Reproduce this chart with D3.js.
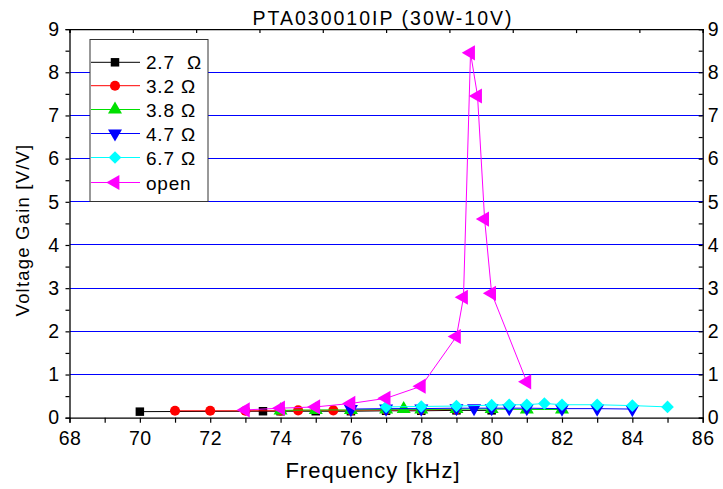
<!DOCTYPE html>
<html><head><meta charset="utf-8">
<script src="https://cdn.jsdelivr.net/npm/d3@7"></script>
<style>
body{margin:0;background:#fff;}
svg{display:block;font-family:"Liberation Sans",Arial,sans-serif;}
</style></head><body>
<svg id="c" width="723" height="489"></svg>
<script>
// ---- data ----
const title = "PTA030010IP (30W-10V)";
const xLabel = "Frequency [kHz]";
const yLabel = "Voltage Gain [V/V]";
const xTickLabels = [68,70,72,74,76,78,80,82,84,86];
const yTickLabels = [0,1,2,3,4,5,6,7,8,9];
const topTicks = [68,69.8,71.6,73.4,75.2,77,78.8,80.6,82.4,84.2,86];
const gridValues = [1,2,3,4,5,6,7,8];

const seriesNames = ["2.7  \u03A9","3.2 \u03A9","3.8 \u03A9","4.7 \u03A9","6.7 \u03A9","open"];
const seriesColors = ["#000000","#ff0000","#00e000","#0000ff","#00ffff","#ff00ff"];
const seriesSymbols = ["square","circle","triangleUp","triangleDown","diamond","triangleLeft"];

const f27 = [70,73.5,74,75,76,77,78,79,80];
const v27 = [0.14,0.15,0.15,0.15,0.15,0.16,0.16,0.17,0.17];
const f32 = [71,72,73,74,74.5,75.5,76,77,78,79];
const v32 = [0.16,0.16,0.16,0.16,0.17,0.17,0.17,0.18,0.18,0.19];
const f38 = [74,75,76,77,77.5,78,79,80,81,82];
const v38 = [0.17,0.18,0.18,0.19,0.2,0.19,0.2,0.2,0.19,0.19];
const f47 = [76,77,78,79,79.5,80,80.5,81,82,83,84];
const v47 = [0.2,0.21,0.21,0.22,0.22,0.22,0.22,0.22,0.21,0.21,0.2];
const f67 = [77,78,79,80,80.5,81,81.5,82,83,84,85];
const v67 = [0.25,0.26,0.27,0.29,0.3,0.3,0.33,0.3,0.3,0.28,0.25];
const fOpen = [73,74,75,76,77,78,79,79.2,79.4,79.6,79.8,80,81];
const vOpen = [0.18,0.22,0.25,0.33,0.45,0.73,1.88,2.79,8.45,7.45,4.6,2.88,0.83];

const seriesF = [f27,f32,f38,f47,f67,fOpen];
const seriesV = [v27,v32,v38,v47,v67,vOpen];

// ---- chart ----
const svg = d3.select("#c");
const x = d3.scaleLinear().domain([68,86]).range([69.5,702.7]);
const y = d3.scaleLinear().domain([0,9]).range([417.7,29.1]);
const X0 = x.range()[0], X1 = x.range()[1], Y0 = y.range()[0], Y1 = y.range()[1];

// grid
svg.append("g").selectAll("line").data(gridValues).join("line")
  .attr("x1",X0).attr("x2",X1).attr("y1",d=>y(d)).attr("y2",d=>y(d))
  .attr("stroke","#0000ff").attr("stroke-width",1).attr("shape-rendering","crispEdges");

// symbols
const symMap = {
  square: d3.symbol(d3.symbolSquare, 72),
  circle: d3.symbol(d3.symbolCircle, 80),
  triangleUp: d3.symbol(d3.symbolTriangle, 85)
};
function symbolPath(kind){
  if (kind === "triangleDown") return {p: symMap.triangleUp(), r: 180};
  if (kind === "triangleLeft") return {p: d3.symbol(d3.symbolTriangle, 100)(), r: -90};
  if (kind === "diamond") return {p: d3.symbol(d3.symbolSquare,80)(), r: 45};
  return {p: symMap[kind](), r: 0};
}

const line = d3.line().x(d=>x(d[0])).y(d=>y(d[1]));
const dataG = svg.append("g");
seriesF.forEach((fs,i)=>{
  const pts = fs.map((f,j)=>[f, seriesV[i][j]]);
  const g = dataG.append("g");
  g.append("path").attr("d", line(pts)).attr("fill","none")
    .attr("stroke", seriesColors[i]).attr("stroke-width",1);
  const s = symbolPath(seriesSymbols[i]);
  g.selectAll("path.m").data(pts).join("path").attr("class","m")
    .attr("d", s.p).attr("fill", seriesColors[i])
    .attr("transform", d=>`translate(${x(d[0])},${y(d[1])}) rotate(${s.r})`);
});

// axes
const axG = svg.append("g");
const axBottom = d3.axisBottom(x).tickValues(d3.range(68,87,1)).tickSize(5).tickPadding(8)
  .tickFormat(d => xTickLabels.includes(d) ? d : "");
const bx = axG.append("g").attr("transform",`translate(0,${Y0})`).call(axBottom);
const axLeft = d3.axisLeft(y).tickValues(d3.range(0,9.01,0.5)).tickSize(4).tickPadding(6)
  .tickFormat(d => yTickLabels.includes(d) ? d : "");
const lx = axG.append("g").attr("transform",`translate(${X0},0)`).call(axLeft);
const axRight = d3.axisRight(y).tickValues(d3.range(0,9.01,0.5)).tickSize(-4).tickPadding(6)
  .tickFormat(d => yTickLabels.includes(d) ? d : "");
const rx = axG.append("g").attr("transform",`translate(${X1},0)`).call(axRight);
const axTop = d3.axisTop(x).tickValues(topTicks).tickSize(-4).tickFormat("");
const tx = axG.append("g").attr("transform",`translate(0,${Y1})`).call(axTop);
[bx,lx,rx,tx].forEach(g=>{
  g.attr("font-family",null).attr("font-size",null);
  g.selectAll("text").attr("fill","#000").attr("font-size",19.5).style("letter-spacing","0.5px");
  g.selectAll("path.domain").attr("stroke","#000").attr("stroke-width",1.3);
  g.selectAll(".tick line").attr("stroke","#000").attr("stroke-width",1.2);
});
rx.selectAll("text").attr("x",5);

// labels
svg.append("text").attr("x",383).attr("y",25).attr("text-anchor","middle")
  .attr("font-size",19.5).style("letter-spacing","2px").text(title);
svg.append("text").attr("x",373).attr("y",478).attr("text-anchor","middle")
  .attr("font-size",22).style("letter-spacing","1px").text(xLabel);
svg.append("text").attr("transform","translate(29,230) rotate(-90)").attr("text-anchor","middle")
  .attr("font-size",18.5).style("letter-spacing","1.2px").text(yLabel);

// legend
const leg = svg.append("g");
leg.append("rect").attr("x",90).attr("y",39.5).attr("width",118).attr("height",162)
  .attr("fill","#fff").attr("stroke","#333").attr("stroke-width",1);
const legY = [62.3,85.7,109.5,133.5,157.5,182.5];
seriesNames.forEach((nm,i)=>{
  const yy = legY[i];
  leg.append("line").attr("x1",91).attr("x2",140).attr("y1",yy).attr("y2",yy)
    .attr("stroke",seriesColors[i]).attr("stroke-width",1);
  const s = symbolPath(seriesSymbols[i]);
  leg.append("path").attr("d",s.p).attr("fill",seriesColors[i])
    .attr("transform",`translate(115,${yy}) rotate(${s.r})`);
  leg.append("text").attr("x",146).attr("y",yy+7).attr("font-size",19)
    .style("letter-spacing","0.8px").style("white-space","pre").text(nm);
});
</script>
</body></html>
